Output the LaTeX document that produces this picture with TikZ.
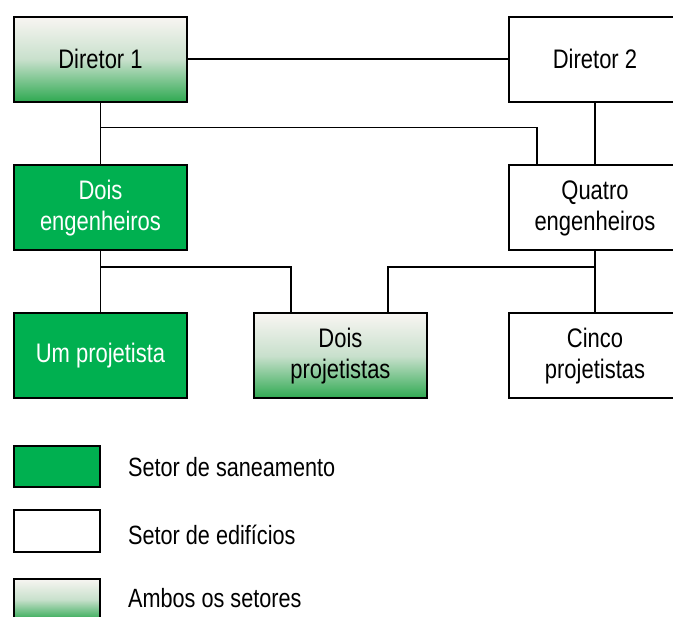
\documentclass[tikz,border=0pt]{standalone}
\usepackage{fontspec}
\setmainfont{Liberation Sans}[FakeStretch=0.82]
\usetikzlibrary{calc}
\definecolor{sanGreen}{HTML}{00B050}
\definecolor{ambTop}{HTML}{F8F5F2}
\definecolor{ambMid}{HTML}{C8E0CC}
\definecolor{ambBot}{HTML}{2EA951}

\begin{document}
\begin{tikzpicture}[x=1pt, y=-1pt,
		box/.style={draw=black, line width=2pt, minimum width=172.5pt, minimum height=85pt,
			inner sep=0pt, align=center, font=\fontsize{26.8}{31}\selectfont},
		sanbox/.style={box, fill=sanGreen, text=white},
		edibox/.style={box, fill=white},
		ambbox/.style={box, top color=ambTop, bottom color=ambBot, middle color=ambMid},
		legbox/.style={draw=black, line width=2pt, minimum width=86pt, minimum height=41.5pt, inner sep=0pt},
		legtext/.style={anchor=west, inner sep=0pt, font=\fontsize{26.4}{30}\selectfont},
		conn/.style={draw=black, line width=1.8pt}]
		%%%%% START %%%%%
		
		\useasboundingbox (0, 0) rectangle (673, 617);
		\clip (0, 0) rectangle (673, 617);
		
		\node[ambbox] (dir1) at (100.5, 59.4) {Diretor 1};
		\node[edibox] (dir2) at (595, 59.4) {Diretor 2};
		
		\node[sanbox] (eng1) at (100.5, 208) {Dois\\engenheiros};
		\node[edibox] (eng2) at (595, 208) {Quatro\\engenheiros};
		
		\node[sanbox] (proj1) at (100.5, 356) {Um projetista};
		\node[ambbox] (proj2) at (340.4, 356) {Dois\\projetistas};
		\node[edibox] (proj3) at (595, 356) {Cinco\\projetistas};
		
		\draw[conn] (dir1) -- (dir2);
		\draw[conn] (dir1) -- (eng1);
		\draw[conn] (dir2) -- (eng2);
		\draw[conn] ($(dir1.south)!0.4!(eng1.north)$) -| ([xshift=-58.3pt]eng2.north);
		
		\draw[conn] (eng1) -- (proj1);
		\draw[conn] (eng2) -- (proj3);
		\draw[conn] ($(eng1.south)!0.25!(proj1.north)$) -| ([xshift=-49.8pt]proj2.north);
		\draw[conn] ($(eng2.south)!0.25!(proj3.north)$) -| ([xshift=47.2pt]proj2.north);
		
		\node[legbox, fill=sanGreen] (legSan) at (57, 466.5) {};
		\node[legbox, fill=white] (legEdi) at (57, 531) {};
		\node[legbox, top color=ambTop, bottom color=ambBot, middle color=ambMid] (legAmb) at (57, 599.5) {};
		
		\node[legtext] (txtSan) at (128, 467) {Setor de saneamento};
		\node[legtext] (txtEdi) at (128, 535) {Setor de edifícios};
		\node[legtext] (txtAmb) at (128, 598) {Ambos os setores};
		
		%%%%% END %%%%%
	\end{tikzpicture}
\end{document}
